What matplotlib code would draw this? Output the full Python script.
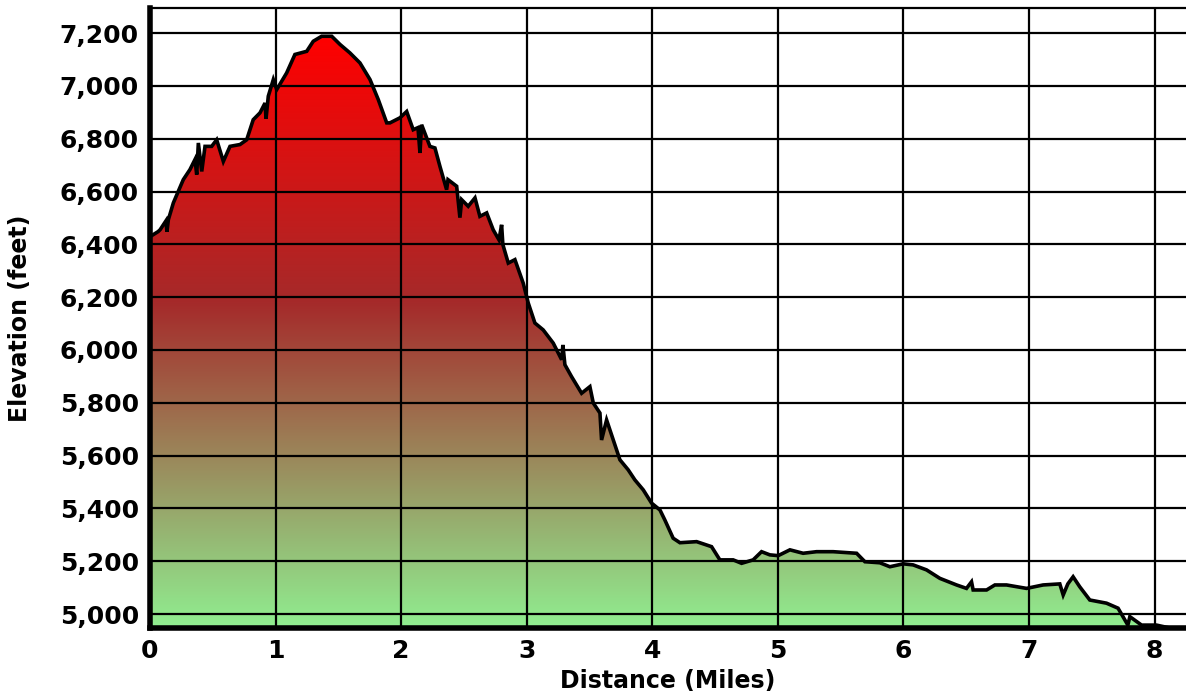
import numpy as np
import matplotlib
matplotlib.use("Agg")
import matplotlib.pyplot as plt
from matplotlib.colors import LinearSegmentedColormap
from matplotlib.patches import PathPatch

# Distance (miles) and elevation (feet)
distance = [0.000, 0.064, 0.080, 0.127, 0.135, 0.146, 0.186, 0.265, 0.318, 0.358,
            0.372, 0.385, 0.412, 0.438, 0.491, 0.531, 0.584, 0.637, 0.717, 0.770,
            0.822, 0.876, 0.916, 0.924, 0.942, 0.982, 1.009, 1.088, 1.154, 1.248,
            1.300, 1.367, 1.447, 1.513, 1.592, 1.672, 1.752, 1.818, 1.885, 1.911,
            1.990, 2.044, 2.096, 2.134, 2.150, 2.163, 2.229, 2.269, 2.309, 2.362,
            2.373, 2.442, 2.468, 2.482, 2.534, 2.588, 2.627, 2.681, 2.733, 2.779,
            2.800, 2.810, 2.853, 2.906, 2.972, 3.012, 3.065, 3.131, 3.211, 3.278,
            3.288, 3.304, 3.357, 3.437, 3.503, 3.530, 3.583, 3.596, 3.636, 3.689,
            3.742, 3.808, 3.861, 3.928, 3.994, 4.061, 4.100, 4.166, 4.220, 4.353,
            4.472, 4.538, 4.644, 4.711, 4.803, 4.870, 4.936, 5.002, 5.096, 5.201,
            5.308, 5.440, 5.627, 5.693, 5.812, 5.892, 5.998, 6.077, 6.184, 6.290,
            6.423, 6.502, 6.542, 6.555, 6.662, 6.728, 6.821, 6.980, 7.112, 7.245,
            7.272, 7.309, 7.351, 7.404, 7.484, 7.617, 7.709, 7.787, 7.803, 7.896,
            8.015, 8.121, 8.250]
elevation = [6429, 6448, 6455, 6489, 6448, 6493, 6557, 6645, 6683, 6721,
             6664, 6784, 6676, 6771, 6771, 6796, 6714, 6771, 6778, 6796,
             6872, 6898, 6935, 6876, 6961, 7024, 6986, 7049, 7119, 7131,
             7169, 7188, 7188, 7157, 7125, 7087, 7024, 6948, 6860, 6860,
             6879, 6903, 6834, 6842, 6746, 6853, 6771, 6765, 6695, 6607,
             6645, 6620, 6501, 6569, 6544, 6576, 6506, 6519, 6455, 6417,
             6474, 6399, 6329, 6342, 6253, 6178, 6102, 6076, 6026, 5963,
             6019, 5944, 5899, 5836, 5861, 5799, 5761, 5659, 5735, 5659,
             5584, 5546, 5508, 5470, 5420, 5394, 5356, 5287, 5270, 5274,
             5255, 5205, 5205, 5192, 5205, 5236, 5224, 5221, 5243, 5230,
             5236, 5236, 5230, 5198, 5194, 5179, 5190, 5186, 5167, 5135,
             5110, 5097, 5122, 5091, 5091, 5110, 5110, 5097, 5110, 5114,
             5072, 5114, 5141, 5103, 5053, 5041, 5022, 4958, 4990, 4958,
             4958, 4947, 4947]

x_ticks = [0, 1, 2, 3, 4, 5, 6, 7, 8]
y_ticks = [5000, 5200, 5400, 5600, 5800, 6000, 6200, 6400, 6600, 6800, 7000, 7200]

x_min, x_max = 0, 8.25
y_min, y_max = 4947, 7295

plt.rcParams['font.family'] = ['DejaVu Sans']
plt.rcParams['font.weight'] = 'bold'

fig = plt.figure(figsize=(11.86, 6.94), dpi=100)
ax = fig.add_axes([150/1186, (694-628)/694, (1186-150)/1186, (628-8)/694])

ax.set_xlim(x_min, x_max)
ax.set_ylim(y_min, y_max)

# gradient fill clipped to area under the profile
cmap = LinearSegmentedColormap.from_list(
    "elev", [(0.0, (144/255, 238/255, 144/255)),
             (0.55, (165/255, 42/255, 42/255)),
             (1.0, (1.0, 0.0, 0.0))])
emin, emax = min(elevation), max(elevation)
grad = np.linspace(0, 1, 256).reshape(-1, 1)
img = ax.imshow(grad, cmap=cmap, origin='lower', aspect='auto',
                extent=[x_min, max(distance), emin, emax], zorder=1)
poly = ax.fill_between(distance, elevation, y_min, facecolor='none', edgecolor='none')
patch = PathPatch(poly.get_paths()[0], transform=ax.transData,
                  facecolor='none', edgecolor='none')
ax.add_patch(patch)
img.set_clip_path(patch)

ax.plot(distance, elevation, color='black', linewidth=2.6, zorder=3,
        solid_joinstyle='miter')

ax.set_xticks(x_ticks)
ax.set_yticks(y_ticks)
ax.set_yticklabels([f"{v:,}" for v in y_ticks])
ax.grid(True, color='black', linewidth=1.6)
for gl in ax.get_xgridlines() + ax.get_ygridlines():
    gl.set_zorder(2)
ax.tick_params(length=0, labelsize=18, pad=8)
for lab in ax.get_xticklabels() + ax.get_yticklabels():
    lab.set_fontweight('bold')

ax.spines['left'].set_linewidth(4)
ax.spines['bottom'].set_linewidth(4)
ax.spines['top'].set_linewidth(1.6)
ax.spines['right'].set_visible(False)
for s in ax.spines.values():
    s.set_zorder(4)

ax.set_xlabel("Distance (Miles)", fontsize=17, fontweight='bold', labelpad=4)
ax.set_ylabel("Elevation (feet)", fontsize=17, fontweight='bold', labelpad=20)

fig.savefig("out.png", dpi=100)
